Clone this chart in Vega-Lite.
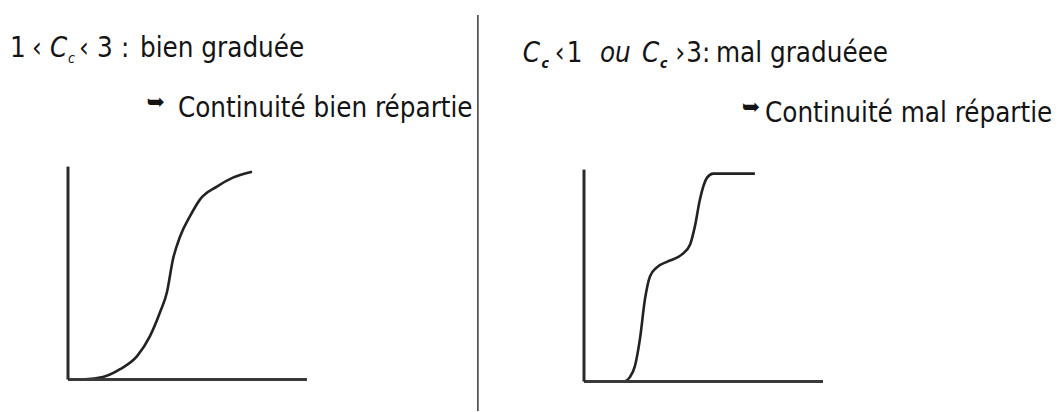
{
  "$schema": "https://vega.github.io/schema/vega-lite/v6.json",
  "width": 1063,
  "height": 412,
  "autosize": {"type": "fit", "contains": "padding"},
  "padding": 0,
  "background": "white",
  "config": {
    "view": {"stroke": null},
    "text": {"font": "Liberation Sans Narrow, DejaVu Sans Condensed, DejaVu Sans", "color": "#141414", "align": "left", "baseline": "alphabetic"}
  },
  "datasets": {
    "wellGraded": [
      {"d": 0, "p": 0}, {"d": 7.1, "p": 0.1}, {"d": 14.6, "p": 1.2}, {"d": 21.8, "p": 4.9},
      {"d": 28.9, "p": 11.0}, {"d": 34.3, "p": 20.4}, {"d": 38.5, "p": 31.6}, {"d": 41.4, "p": 41.0},
      {"d": 43.9, "p": 56.4}, {"d": 46.9, "p": 67.2}, {"d": 51.0, "p": 76.6}, {"d": 55.2, "p": 84.5},
      {"d": 62.3, "p": 90.6}, {"d": 69.0, "p": 94.8}, {"d": 77.0, "p": 97.6}
    ],
    "gapGraded": [
      {"d": 16.0, "p": 0}, {"d": 17.2, "p": 0.2}, {"d": 19.2, "p": 2.1}, {"d": 21.3, "p": 7.3},
      {"d": 23.4, "p": 20.0}, {"d": 25.5, "p": 38.8}, {"d": 27.6, "p": 49.6}, {"d": 30.5, "p": 53.9},
      {"d": 35.1, "p": 56.7}, {"d": 41.0, "p": 60.0}, {"d": 44.4, "p": 64.7}, {"d": 46.4, "p": 73.2},
      {"d": 48.5, "p": 85.9}, {"d": 51.5, "p": 96.2}, {"d": 54.0, "p": 98.1}, {"d": 71.5, "p": 98.1}
    ],
    "leftText": [
      {"t": "1", "d": -24.27, "p": 151.5, "role": "main"},
      {"t": "‹", "d": -15.06, "p": 151.5, "role": "main"},
      {"t": "C", "d": -7.53, "p": 151.5, "role": "var"},
      {"t": "c", "d": 0, "p": 148.7, "role": "sub"},
      {"t": "‹", "d": 4.6, "p": 151.5, "role": "main"},
      {"t": "3", "d": 12.13, "p": 151.5, "role": "main"},
      {"t": ":", "d": 22.18, "p": 151.5, "role": "main"},
      {"t": "bien graduée", "d": 30.13, "p": 151.5, "role": "main"},
      {"t": "➥", "d": 32.8, "p": 130.4, "role": "arrow"},
      {"t": "Continuité bien répartie", "d": 46.0, "p": 123.4, "role": "main"}
    ],
    "rightText": [
      {"t": "C", "d": -25.6, "p": 150.8, "role": "var"},
      {"t": "c", "d": -17.8, "p": 148.0, "role": "sub"},
      {"t": "‹", "d": -12.2, "p": 150.8, "role": "main"},
      {"t": "1", "d": -7.2, "p": 150.8, "role": "main"},
      {"t": "ou", "d": 6.69, "p": 150.8, "role": "var"},
      {"t": "C", "d": 24.3, "p": 150.8, "role": "var"},
      {"t": "c", "d": 31.8, "p": 148.0, "role": "sub"},
      {"t": "›", "d": 38.2, "p": 150.8, "role": "main"},
      {"t": "3", "d": 42.8, "p": 150.8, "role": "main"},
      {"t": ":", "d": 49.4, "p": 150.8, "role": "main"},
      {"t": "mal graduéee", "d": 55.23, "p": 150.8, "role": "main"},
      {"t": "➥", "d": 66.0, "p": 129.6, "role": "arrow"},
      {"t": "Continuité mal répartie", "d": 75.73, "p": 122.6, "role": "main"}
    ]
  },
  "layer": [
    {
      "layer": [
        {
          "data": {"name": "wellGraded"},
          "mark": {"type": "line", "interpolate": "monotone", "stroke": "#222", "strokeWidth": 2.6},
          "encoding": {
            "x": {"field": "d", "type": "quantitative", "axis": null, "scale": {"domain": [-28.45, 416.32], "nice": false, "zero": false}},
            "y": {"field": "p", "type": "quantitative", "axis": null, "scale": {"domain": [-14.75, 178.22], "nice": false, "zero": false}}
          }
        },
        {
          "data": {"values": [{}]},
          "mark": {"type": "rule", "stroke": "#3a3a3a", "strokeWidth": 3},
          "encoding": {
            "x": {"datum": 0, "type": "quantitative"},
            "x2": {"datum": 100},
            "y": {"datum": 0, "type": "quantitative"}
          }
        },
        {
          "data": {"values": [{}]},
          "mark": {"type": "rule", "stroke": "#2a2a2a", "strokeWidth": 3},
          "encoding": {
            "x": {"datum": 0, "type": "quantitative"},
            "y": {"datum": 0, "type": "quantitative"},
            "y2": {"datum": 100}
          }
        },
        {
          "data": {"values": [{}]},
          "mark": {"type": "rule", "stroke": "#444", "strokeWidth": 1.6},
          "encoding": {
            "x": {"datum": 171.5, "type": "quantitative"},
            "y": {"datum": 171.2, "type": "quantitative"},
            "y2": {"datum": -14.75}
          }
        },
        {
          "data": {"name": "leftText"},
          "transform": [{"filter": "datum.role === 'main'"}],
          "mark": {"type": "text", "fontSize": 27.5},
          "encoding": {"x": {"field": "d", "type": "quantitative"}, "y": {"field": "p", "type": "quantitative"}, "text": {"field": "t"}}
        },
        {
          "data": {"name": "leftText"},
          "transform": [{"filter": "datum.role === 'var'"}],
          "mark": {"type": "text", "fontSize": 27.5, "fontStyle": "italic"},
          "encoding": {"x": {"field": "d", "type": "quantitative"}, "y": {"field": "p", "type": "quantitative"}, "text": {"field": "t"}}
        },
        {
          "data": {"name": "leftText"},
          "transform": [{"filter": "datum.role === 'sub'"}],
          "mark": {"type": "text", "fontSize": 14, "fontStyle": "italic"},
          "encoding": {"x": {"field": "d", "type": "quantitative"}, "y": {"field": "p", "type": "quantitative"}, "text": {"field": "t"}}
        },
        {
          "data": {"name": "leftText"},
          "transform": [{"filter": "datum.role === 'arrow'"}],
          "mark": {"type": "text", "fontSize": 22, "baseline": "middle", "font": "DejaVu Sans"},
          "encoding": {"x": {"field": "d", "type": "quantitative"}, "y": {"field": "p", "type": "quantitative"}, "text": {"field": "t"}}
        }
      ]
    },
    {
      "layer": [
        {
          "data": {"name": "gapGraded"},
          "mark": {"type": "line", "interpolate": "monotone", "stroke": "#222", "strokeWidth": 2.6},
          "encoding": {
            "x": {"field": "d", "type": "quantitative", "axis": null, "scale": {"domain": [-244.35, 200.42], "nice": false, "zero": false}},
            "y": {"field": "p", "type": "quantitative", "axis": null, "scale": {"domain": [-13.88, 180.0], "nice": false, "zero": false}}
          }
        },
        {
          "data": {"values": [{}]},
          "mark": {"type": "rule", "stroke": "#3a3a3a", "strokeWidth": 3},
          "encoding": {
            "x": {"datum": 0, "type": "quantitative"},
            "x2": {"datum": 100},
            "y": {"datum": 0, "type": "quantitative"}
          }
        },
        {
          "data": {"values": [{}]},
          "mark": {"type": "rule", "stroke": "#2a2a2a", "strokeWidth": 3},
          "encoding": {
            "x": {"datum": 0, "type": "quantitative"},
            "y": {"datum": 0, "type": "quantitative"},
            "y2": {"datum": 100}
          }
        },
        {
          "data": {"name": "rightText"},
          "transform": [{"filter": "datum.role === 'main'"}],
          "mark": {"type": "text", "fontSize": 27.5},
          "encoding": {"x": {"field": "d", "type": "quantitative"}, "y": {"field": "p", "type": "quantitative"}, "text": {"field": "t"}}
        },
        {
          "data": {"name": "rightText"},
          "transform": [{"filter": "datum.role === 'var'"}],
          "mark": {"type": "text", "fontSize": 27.5, "fontStyle": "italic"},
          "encoding": {"x": {"field": "d", "type": "quantitative"}, "y": {"field": "p", "type": "quantitative"}, "text": {"field": "t"}}
        },
        {
          "data": {"name": "rightText"},
          "transform": [{"filter": "datum.role === 'sub'"}],
          "mark": {"type": "text", "fontSize": 14, "fontStyle": "italic", "fontWeight": "bold"},
          "encoding": {"x": {"field": "d", "type": "quantitative"}, "y": {"field": "p", "type": "quantitative"}, "text": {"field": "t"}}
        },
        {
          "data": {"name": "rightText"},
          "transform": [{"filter": "datum.role === 'arrow'"}],
          "mark": {"type": "text", "fontSize": 22, "baseline": "middle", "font": "DejaVu Sans"},
          "encoding": {"x": {"field": "d", "type": "quantitative"}, "y": {"field": "p", "type": "quantitative"}, "text": {"field": "t"}}
        }
      ]
    }
  ],
  "resolve": {"scale": {"x": "independent", "y": "independent"}}
}
